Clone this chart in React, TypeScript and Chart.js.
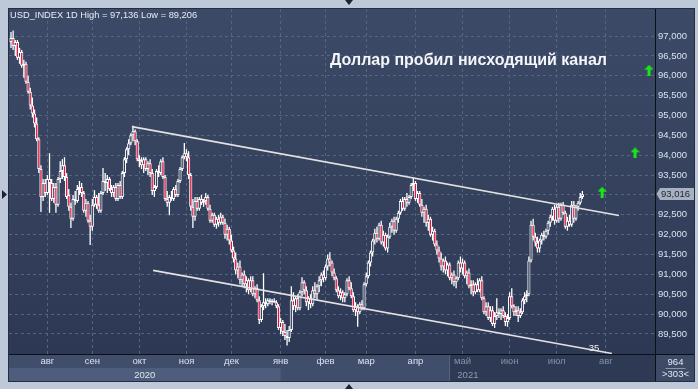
import React, { useEffect, useRef } from 'react';
import { Chart, registerables } from 'chart.js';

Chart.register(...registerables);

const FONT = '"Liberation Sans", Arial, sans-serif';

const monthIdx = [17, 38, 60, 82, 103, 126, 147, 166, 189, 211, 233, 255, 278];
const monthLabels = ['авг', 'сен', 'окт', 'ноя', 'дек', 'янв', 'фев', 'мар', 'апр', 'май', 'июн', 'июл', 'авг'];
const yearLabels = ['2020', '2021'];
const yTicks = [89.5, 90, 90.5, 91, 91.5, 92, 92.5, 93, 93.5, 94, 94.5, 95, 95.5, 96, 96.5, 97];

const opens = [
  96.85,96.95,96.75,96.85,96.45,96.60,96.25,96.30,95.85,95.60,
  95.25,95.05,94.80,94.40,93.65,92.95,93.30,93.05,93.40,93.30,
  92.90,93.20,92.75,93.40,93.60,93.75,93.45,93.00,92.70,92.40,
  92.90,92.85,93.15,93.20,93.05,92.60,92.80,92.35,92.20,92.75,
  92.95,92.75,92.60,93.05,93.35,93.30,93.40,93.15,93.05,93.20,
  92.90,93.25,92.95,93.55,93.90,94.15,94.30,94.50,94.60,94.35,
  93.90,93.85,93.75,93.90,93.65,93.80,93.55,93.10,93.20,93.60,
  93.55,93.85,93.45,92.90,92.80,92.95,92.90,93.15,93.00,93.35,
  93.65,93.95,94.05,93.95,93.50,92.70,92.45,92.85,92.65,92.90,
  92.80,92.85,92.95,92.65,92.35,92.50,92.25,92.40,92.30,92.45,
  92.30,92.00,92.15,91.85,91.60,91.40,91.10,91.20,90.85,91.00,
  90.75,90.85,90.60,90.85,90.50,90.65,90.35,89.85,90.20,90.30,
  90.25,90.35,90.30,90.33,90.30,90.20,89.65,89.80,89.55,89.45,
  89.40,89.60,90.35,90.20,90.40,90.15,90.55,90.80,90.60,90.30,
  90.40,90.25,90.60,90.50,90.70,90.85,91.00,90.90,91.20,91.40,
  91.30,91.05,90.90,90.60,90.45,90.55,90.40,90.50,90.85,90.65,
  90.45,90.10,90.20,90.05,90.25,90.15,90.75,90.95,91.30,91.55,
  91.85,92.05,91.90,92.25,91.80,92.00,91.65,91.95,92.20,92.35,
  92.10,92.40,92.55,92.85,92.65,92.90,92.80,92.95,93.25,93.30,
  92.90,93.05,92.75,92.55,92.65,92.30,92.40,92.00,92.10,91.75,
  91.60,91.40,91.20,91.35,91.10,91.25,90.90,91.00,90.80,90.90,
  91.30,91.15,91.30,90.95,91.05,90.70,90.75,90.55,90.75,90.60,
  90.85,90.40,90.05,90.20,89.90,90.10,89.75,89.95,90.05,90.00,
  90.10,89.95,89.80,89.90,90.45,90.20,90.05,90.10,89.95,90.05,
  90.35,90.45,90.50,91.35,92.25,91.95,91.80,91.65,91.85,92.00,
  91.95,92.10,92.30,92.45,92.65,92.35,92.70,92.40,92.75,92.55,
  92.20,92.35,92.25,92.75,92.40,92.70,92.80,92.95
];

const highs = [
  97.10,97.14,96.90,96.90,96.70,96.65,96.40,96.35,96.00,95.70,
  95.45,95.15,94.95,94.45,93.75,93.40,93.40,93.50,94.05,93.40,
  93.30,93.30,93.45,93.85,93.90,93.95,93.55,93.15,92.80,93.00,
  93.10,93.25,93.35,93.30,93.10,92.90,92.85,92.50,92.90,93.12,
  93.00,93.05,93.10,93.68,93.55,93.50,93.45,93.25,93.25,93.30,
  93.30,93.35,93.60,93.95,94.20,94.40,94.55,94.74,94.65,94.40,
  94.00,93.95,93.95,93.95,93.85,93.90,93.65,93.25,93.65,93.75,
  93.90,93.95,93.50,93.10,93.00,93.10,93.20,93.25,93.40,93.70,
  94.00,94.31,94.15,94.10,93.55,92.90,92.95,92.95,92.95,93.00,
  92.90,93.05,93.00,92.75,92.55,92.55,92.45,92.50,92.55,92.50,
  92.40,92.25,92.20,92.00,91.70,91.55,91.30,91.35,91.05,91.10,
  90.95,90.90,90.95,90.95,90.70,90.75,90.45,90.25,91.03,90.40,
  90.40,90.40,90.38,90.40,90.35,90.25,89.90,89.85,89.75,89.60,
  89.70,90.70,90.55,90.45,90.50,90.60,90.93,90.85,90.70,90.45,
  90.50,90.70,90.80,90.75,90.95,91.05,91.10,91.25,91.50,91.56,
  91.35,91.15,90.95,90.70,90.65,90.60,90.55,90.90,90.95,90.80,
  90.55,90.30,90.25,90.30,90.35,90.80,91.05,91.35,91.60,91.90,
  92.15,92.20,92.30,92.35,92.10,92.05,92.00,92.30,92.40,92.45,
  92.45,92.60,92.90,92.95,92.95,93.05,93.00,93.30,93.44,93.35,
  93.10,93.10,92.90,92.70,92.75,92.50,92.45,92.20,92.15,91.85,
  91.70,91.55,91.40,91.45,91.30,91.30,91.05,91.10,90.95,91.35,
  91.45,91.40,91.35,91.10,91.15,90.85,90.85,90.80,90.90,90.90,
  90.95,90.45,90.30,90.30,90.20,90.20,90.05,90.40,90.15,90.15,
  90.20,90.05,90.00,90.55,90.65,90.25,90.20,90.20,90.15,90.40,
  90.55,90.60,91.45,92.35,92.40,92.05,91.95,91.90,92.05,92.10,
  92.15,92.35,92.50,92.70,92.75,92.75,92.80,92.80,92.82,92.60,
  92.45,92.50,92.85,92.85,92.75,92.85,93.05,93.10
];

const lows = [
  96.70,96.65,96.50,96.40,96.30,96.20,95.95,95.80,95.55,95.15,
  94.95,94.70,94.35,93.55,92.57,92.85,92.95,93.00,92.55,92.85,
  92.80,92.55,92.70,93.30,93.40,93.35,92.90,92.60,92.17,92.35,
  92.75,92.80,93.00,92.95,92.55,92.45,92.30,91.74,92.10,92.70,
  92.65,92.55,92.55,93.00,93.10,93.05,93.10,92.95,92.95,92.85,
  92.85,92.90,92.90,93.45,93.80,94.00,94.25,94.35,94.25,93.85,
  93.70,93.65,93.55,93.60,93.50,93.45,93.00,92.95,93.15,93.45,
  93.50,93.40,92.85,92.70,92.49,92.85,92.85,92.95,92.95,93.30,
  93.60,93.90,93.85,93.40,92.60,92.17,92.35,92.60,92.60,92.75,
  92.70,92.75,92.60,92.30,92.30,92.20,92.15,92.20,92.25,92.25,
  91.90,91.85,91.75,91.55,91.30,91.00,90.90,90.75,90.70,90.65,
  90.55,90.50,90.55,90.45,90.40,90.30,89.75,89.80,90.10,90.15,
  90.20,90.25,90.22,90.28,90.15,89.60,89.50,89.45,89.35,89.21,
  89.30,89.55,90.10,90.05,90.10,90.10,90.45,90.50,90.20,90.10,
  90.15,90.20,90.40,90.35,90.55,90.70,90.80,90.85,91.10,91.20,
  90.95,90.85,90.55,90.40,90.35,90.30,90.30,90.45,90.60,90.40,
  90.05,89.95,89.68,90.00,90.10,90.10,90.70,90.90,91.20,91.45,
  91.75,91.80,91.85,91.75,91.70,91.60,91.55,91.90,92.05,92.00,
  92.05,92.30,92.50,92.60,92.60,92.70,92.75,92.90,93.10,92.85,
  92.80,92.70,92.45,92.30,92.20,92.10,91.95,91.85,91.70,91.50,
  91.30,91.10,91.05,91.00,90.95,90.85,90.75,90.70,90.65,90.85,
  91.05,91.00,90.90,90.75,90.65,90.50,90.45,90.50,90.55,90.55,
  90.35,90.00,89.95,89.85,89.80,89.70,89.65,89.85,89.90,89.85,
  89.90,89.70,89.68,89.85,90.15,89.95,89.95,89.80,89.90,90.00,
  90.25,90.30,90.45,91.30,91.85,91.70,91.55,91.55,91.75,91.85,
  91.90,92.00,92.20,92.35,92.25,92.30,92.30,92.35,92.50,92.15,
  92.10,92.20,92.20,92.30,92.35,92.60,92.75,92.90
];

const closes = [
  96.95,96.75,96.85,96.45,96.60,96.25,96.30,95.85,95.60,95.25,
  95.05,94.80,94.40,93.65,92.95,93.30,93.05,93.40,93.30,92.90,
  93.20,92.75,93.40,93.60,93.75,93.45,92.95,92.70,92.40,92.90,
  92.85,93.15,93.20,93.05,92.60,92.80,92.35,92.20,92.75,92.95,
  92.75,92.60,93.05,93.35,93.30,93.40,93.15,93.05,93.20,92.90,
  93.25,92.95,93.55,93.90,94.15,94.30,94.50,94.60,94.35,93.90,
  93.85,93.75,93.90,93.65,93.80,93.55,93.10,93.20,93.60,93.55,
  93.85,93.45,92.90,92.80,92.95,92.90,93.15,93.00,93.35,93.65,
  93.95,94.05,93.95,93.50,92.70,92.45,92.85,92.65,92.90,92.80,
  92.85,92.95,92.65,92.35,92.50,92.25,92.40,92.30,92.45,92.30,
  92.00,92.15,91.85,91.60,91.40,91.10,91.20,90.85,91.00,90.75,
  90.85,90.60,90.85,90.50,90.65,90.35,89.85,90.20,90.30,90.25,
  90.35,90.30,90.33,90.30,90.20,89.65,89.80,89.55,89.45,89.40,
  89.60,90.35,90.20,90.40,90.15,90.55,90.80,90.60,90.30,90.40,
  90.25,90.60,90.50,90.70,90.85,91.00,90.90,91.20,91.40,91.30,
  91.05,90.90,90.60,90.45,90.55,90.40,90.50,90.85,90.65,90.45,
  90.10,90.20,90.05,90.25,90.15,90.75,90.95,91.30,91.55,91.85,
  92.05,91.90,92.25,91.80,92.00,91.65,91.95,92.20,92.35,92.10,
  92.40,92.55,92.85,92.65,92.90,92.80,92.95,93.25,93.30,92.90,
  93.05,92.75,92.55,92.65,92.30,92.40,92.00,92.10,91.75,91.60,
  91.40,91.20,91.35,91.10,91.25,90.90,91.00,90.80,90.90,91.30,
  91.15,91.30,90.95,91.05,90.70,90.75,90.55,90.75,90.60,90.85,
  90.40,90.05,90.20,89.90,90.10,89.75,89.95,90.05,90.00,90.10,
  89.95,89.80,89.90,90.45,90.20,90.05,90.10,89.95,90.05,90.35,
  90.45,90.50,91.35,92.25,91.95,91.80,91.65,91.85,92.00,91.95,
  92.10,92.30,92.45,92.65,92.35,92.70,92.40,92.75,92.55,92.20,
  92.35,92.25,92.75,92.40,92.70,92.80,92.95,93.016
];

// trend channel endpoints in (bar index, price)
const upperLine = [{ x: 56.5, y: 94.72 }, { x: 284.1, y: 92.48 }];
const lowerLine = [{ x: 66.4, y: 91.1 }, { x: 280.8, y: 89.01 }];
// green signal arrows (bar index, price)
const arrowPoints = [{ x: 298.1, y: 96.14 }, { x: 291.6, y: 94.06 }, { x: 276.2, y: 93.07 }];

const headerText = 'USD_INDEX 1D High = 97,136 Low = 89,206';
const titleText = 'Доллар пробил нисходящий канал';
const lastPrice = 93.016;
const lineLabel = '35';
const cornerTop = '964';
const cornerBottom = '>303<';

const fmt = (v: number) => v.toFixed(3).replace('.', ',');

export default function App() {
  const ref = useRef<HTMLCanvasElement | null>(null);

  useEffect(() => {
    document.body.style.margin = '0';
    const canvas = ref.current;
    if (!canvas) return;

    const arrow = document.createElement('canvas');
    arrow.width = 9;
    arrow.height = 11;
    const a = arrow.getContext('2d')!;
    a.fillStyle = '#19e619';
    a.beginPath();
    a.moveTo(4.5, 0);
    a.lineTo(9, 5);
    a.lineTo(6, 5);
    a.lineTo(6, 11);
    a.lineTo(3, 11);
    a.lineTo(3, 5);
    a.lineTo(0, 5);
    a.closePath();
    a.fill();

    const idx = closes.map((_, i) => i);
    const wickData = idx.map((i) => ({ x: i, y: [lows[i], highs[i]] }));
    const bodyData = idx.map((i) => ({ x: i, y: [opens[i], closes[i]] }));
    const bodyFill = idx.map((i) => (closes[i] < opens[i] ? '#e8123c' : '#34405c'));

    const deco = {
      id: 'deco',
      beforeDraw(chart: any) {
        const ctx = chart.ctx;
        const ca = chart.chartArea;
        const xs = chart.scales.x;
        const ys = chart.scales.y;
        const pr = ys.right;
        const ab = xs.bottom;
        ctx.save();
        ctx.fillStyle = '#bdc9d8';
        ctx.fillRect(0, 0, chart.width, chart.height);
        const g = ctx.createLinearGradient(0, ca.top, 0, ca.bottom);
        g.addColorStop(0, '#3d4a67');
        g.addColorStop(1, '#2d3954');
        ctx.fillStyle = g;
        ctx.fillRect(ca.left, ca.top, pr - ca.left, ca.bottom - ca.top);
        const rowMid = ca.bottom + 14;
        const xJan = xs.getPixelForValue(monthIdx[5]);
        const xSel = xs.getPixelForValue(204.7);
        ctx.fillStyle = '#404e6b';
        ctx.fillRect(ca.left, ca.bottom, xSel - ca.left, ab - ca.bottom);
        ctx.fillStyle = '#4d5d7b';
        ctx.fillRect(ca.left, rowMid, xJan - ca.left, ab - rowMid);
        ctx.fillStyle = '#2e3a54';
        ctx.fillRect(xSel, ca.bottom, ca.right - xSel, ab - ca.bottom);
        ctx.fillStyle = '#56647e';
        ctx.fillRect(xSel, ca.bottom, 1, ab - ca.bottom);
        ctx.fillStyle = '#3e4b67';
        ctx.fillRect(ca.right, ca.bottom, pr - ca.right, ab - ca.bottom);
        ctx.restore();
      },
      afterDraw(chart: any) {
        const ctx = chart.ctx;
        const ca = chart.chartArea;
        const xs = chart.scales.x;
        const ys = chart.scales.y;
        const pr = ys.right;
        const ab = xs.bottom;
        ctx.save();
        ctx.strokeStyle = '#252e40';
        ctx.lineWidth = 1;
        ctx.strokeRect(ca.left - 0.5, ca.top - 0.5, pr - ca.left + 1, ab - ca.top + 1);
        ctx.fillStyle = '#0b0f18';
        ctx.fillRect(ca.right, ca.top, 1, ab - ca.top);
        ctx.fillRect(ca.left, ca.bottom, pr - ca.left, 1);

        const rowMid = ca.bottom + 14;
        const xJan = xs.getPixelForValue(monthIdx[5]);
        ctx.font = '9.5px ' + FONT;
        ctx.textAlign = 'center';
        ctx.textBaseline = 'middle';
        ctx.fillStyle = '#dfe7f1';
        ctx.fillText(yearLabels[0], (ca.left + xJan) / 2, rowMid + 7);
        ctx.fillStyle = '#8d99ae';
        ctx.fillText(yearLabels[1], xs.getPixelForValue(213.5), rowMid + 7);

        const cx = (ca.right + pr) / 2 + 1;
        ctx.fillStyle = '#dfe7f1';
        ctx.fillText(cornerTop, cx, ca.bottom + 8);
        ctx.fillText(cornerBottom, cx, ca.bottom + 20);
        ctx.fillStyle = '#8894a8';
        ctx.fillRect(cx - 10, ca.bottom + 14, 20, 1);

        const py = Math.round(ys.getPixelForValue(lastPrice));
        ctx.fillStyle = '#a7b1bf';
        ctx.beginPath();
        ctx.moveTo(ca.right + 1.5, py);
        ctx.lineTo(ca.right + 5, py - 6);
        ctx.lineTo(pr, py - 6);
        ctx.lineTo(pr, py + 6);
        ctx.lineTo(ca.right + 5, py + 6);
        ctx.closePath();
        ctx.fill();
        ctx.fillStyle = '#1c2436';
        ctx.textAlign = 'left';
        ctx.fillText(fmt(lastPrice), ca.right + 6, py + 0.5);

        ctx.font = '9.3px ' + FONT;
        ctx.fillStyle = '#e6edf5';
        ctx.fillText(headerText, ca.left + 1, ca.top + 6);

        ctx.font = 'bold 16px ' + FONT;
        ctx.fillStyle = '#f4f6fa';
        ctx.fillText(titleText, 330, 61);

        ctx.font = '9.5px ' + FONT;
        ctx.textAlign = 'center';
        ctx.fillStyle = '#f0f0f0';
        ctx.fillText(lineLabel, xs.getPixelForValue(272.4), ys.getPixelForValue(89.13));

        ctx.fillStyle = '#1a2233';
        const mid = chart.width / 2;
        ctx.beginPath();
        ctx.moveTo(mid - 4, 0); ctx.lineTo(mid + 4, 0); ctx.lineTo(mid, 5); ctx.closePath(); ctx.fill();
        ctx.beginPath();
        ctx.moveTo(mid - 4, chart.height); ctx.lineTo(mid + 4, chart.height); ctx.lineTo(mid, chart.height - 5); ctx.closePath(); ctx.fill();
        ctx.beginPath();
        ctx.moveTo(2, 190); ctx.lineTo(7, 194.5); ctx.lineTo(2, 199); ctx.closePath(); ctx.fill();
        ctx.restore();
      },
    };

    const gridColor = '#56657f';

    const chart = new Chart(canvas, {
      type: 'bar',
      data: {
        datasets: [
          {
            type: 'bar',
            data: wickData as any,
            backgroundColor: '#ffffff',
            borderWidth: 0,
            barThickness: 1.3,
            grouped: false,
            inflateAmount: 0,
            order: 4,
          } as any,
          {
            type: 'bar',
            data: bodyData as any,
            backgroundColor: bodyFill,
            borderColor: '#ffffff',
            borderWidth: 1,
            borderSkipped: false,
            barThickness: 3.2,
            grouped: false,
            inflateAmount: 0,
            order: 3,
          } as any,
          {
            type: 'line',
            data: upperLine as any,
            borderColor: '#e2e2e2',
            borderWidth: 1.6,
            pointRadius: 0,
            order: 2,
          } as any,
          {
            type: 'line',
            data: lowerLine as any,
            borderColor: '#e2e2e2',
            borderWidth: 1.6,
            pointRadius: 0,
            order: 2,
          } as any,
          {
            type: 'scatter',
            data: arrowPoints as any,
            pointStyle: arrow,
            pointRadius: 5,
            order: 1,
          } as any,
        ],
      },
      options: {
        animation: false,
        responsive: false,
        maintainAspectRatio: false,
        devicePixelRatio: 1,
        layout: { padding: { left: 9, top: 9, right: 4, bottom: 8 } },
        plugins: { legend: { display: false }, tooltip: { enabled: false } },
        scales: {
          x: {
            type: 'linear',
            min: -0.93,
            max: 300.93,
            offset: false,
            afterBuildTicks: (s: any) => {
              s.ticks = monthIdx.map((v) => ({ value: v }));
            },
            afterFit: (s: any) => {
              s.height = 27;
            },
            ticks: {
              autoSkip: false,
              maxRotation: 0,
              padding: 2,
              font: { family: FONT, size: 9.5 },
              color: (c: any) => (c.index >= 9 ? '#8390a8' : '#d8e2ef'),
              callback: (_v: any, i: number) => monthLabels[i],
            },
            grid: { color: gridColor, drawTicks: false, tickLength: 0, offset: false },
            border: { display: false, dash: [3, 3] },
          },
          y: {
            type: 'linear',
            position: 'right',
            min: 88.996,
            max: 97.68,
            afterBuildTicks: (s: any) => {
              s.ticks = yTicks.map((v) => ({ value: v }));
            },
            afterFit: (s: any) => {
              s.width = 39;
            },
            ticks: {
              padding: 3,
              font: { family: FONT, size: 9.5 },
              color: '#d8e2ef',
              callback: (v: any) => fmt(Number(v)),
            },
            grid: { color: gridColor, drawTicks: false, tickLength: 0 },
            border: { display: false, dash: [3, 3] },
          },
        },
      } as any,
      plugins: [deco],
    });

    return () => chart.destroy();
  }, []);

  return <canvas ref={ref} width={698} height={389} style={{ display: 'block', width: 698, height: 389 }} />;
}
